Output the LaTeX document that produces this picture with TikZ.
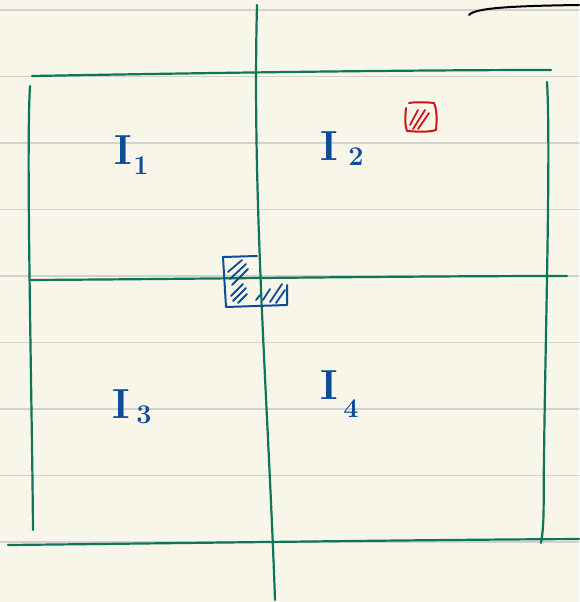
\documentclass[tikz,border=0pt]{standalone}
\begin{document}
\begin{tikzpicture}[x=1pt,y=-1pt,line cap=round,line join=round,
  rule/.style={draw=black!18,line width=1.2pt},
  pen/.style={draw=penG,line width=2.2pt},
  bpen/.style={draw=penB,line width=2pt},
  rpen/.style={draw=penR,line width=2pt},
  lab/.style={text=penB,font=\fontsize{42}{42}\selectfont\bfseries,inner sep=0pt},
  sub/.style={text=penB,font=\fontsize{27}{27}\selectfont\bfseries,inner sep=0pt}]
\definecolor{paper}{HTML}{F8F5E9}
\definecolor{penG}{HTML}{0B7658}
\definecolor{penB}{HTML}{0D4C98}
\definecolor{penR}{HTML}{D3121A}
\fill[paper] (0,0) rectangle (579,602);
\useasboundingbox (0,0) rectangle (579,602);
% ruled paper
\foreach \y in {10,76.5,143,209.5,276,342.5,409,475.5,542}
  \draw[rule] (0,\y) -- (579,\y);
% black stroke top right
\draw[line width=2pt,black] (469,15) .. controls (475,8) and (510,6) .. (579,5);
% green grid
\draw[pen] (32,76) .. controls (200,73) and (400,70) .. (551,70);
\draw[pen] (30,86) .. controls (26,150) and (32,400) .. (33,530);
\draw[pen] (31,280) .. controls (200,279) and (400,276) .. (567,276);
\draw[pen] (8,545) .. controls (200,543) and (400,540) .. (579,539);
\draw[pen] (257,5) .. controls (252,200) and (268,400) .. (275,600);
\draw[pen] (547,82) .. controls (551,150) and (545,350) .. (544,460)
  .. controls (543,500) and (545,520) .. (541,543);
% labels
\node[lab] (i1) at (123,150) {I};
\node[sub] (s1) at (141,166) {1};
\node[lab] (i2) at (329,146) {I};
\node[sub] (s2) at (356,157) {2};
\node[lab] (i3) at (121,404) {I};
\node[sub] (s3) at (144,415) {3};
\node[lab] (i4) at (329,385) {I};
\node[sub] (s4) at (351,409) {4};
% blue hatched rectangle
\draw[bpen] (257,256) -- (223,257) -- (226,307) -- (287,305) -- (287,285);
\foreach \a/\b in {{(228,272)/(242,260)},{(230,279)/(246,264)},{(232,285)/(248,269)},{(231,296)/(243,284)},{(233,301)/(246,288)},{(238,303)/(247,294)},{(256,300)/(260,295)},{(263,300)/(270,289)},{(270,302)/(282,284)},{(276,303)/(285,290)}}
  \draw[penB,line width=1.8pt] \a -- \b;
% red hatched square
\draw[rpen] (406,108) .. controls (405,118) and (405,126) .. (407,131)
  .. controls (420,132) and (430,132) .. (436,130)
  .. controls (437,120) and (437,110) .. (434,103)
  .. controls (425,102) and (415,102) .. (409,103);
\foreach \a/\b in {{(410,125)/(418,110)},{(413,129)/(425,110)},{(418,129)/(429,113)}}
  \draw[penR,line width=1.8pt] \a -- \b;
\end{tikzpicture}
\end{document}
